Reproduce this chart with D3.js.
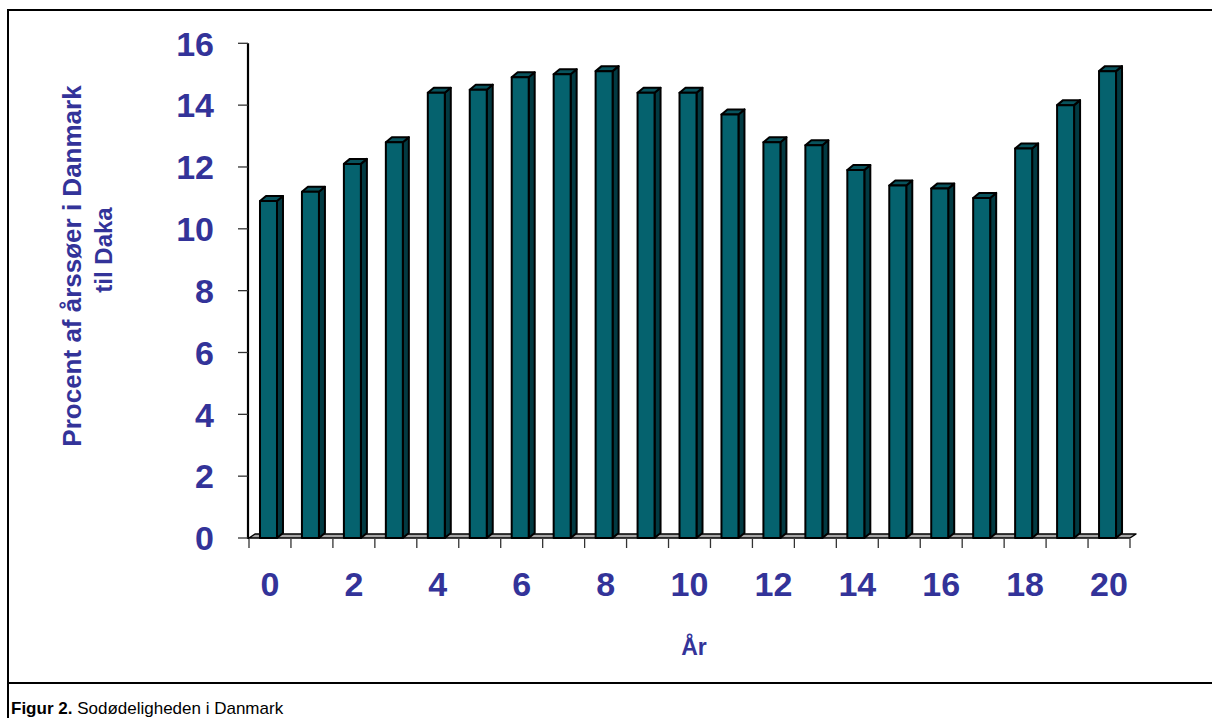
<!DOCTYPE html>
<html>
<head>
<meta charset="utf-8">
<script src="https://cdn.jsdelivr.net/npm/d3@7"></script>
<style>
  html, body { margin: 0; padding: 0; background: #fff; }
  svg { display: block; font-family: Arial, "Liberation Sans", sans-serif; }
</style>
</head>
<body>
<svg id="chart" width="1212" height="718"></svg>
<script>
// ---- data ----
const years = [0,1,2,3,4,5,6,7,8,9,10,11,12,13,14,15,16,17,18,19,20];
const values = [10.9,11.2,12.1,12.8,14.4,14.5,14.9,15.0,15.1,14.4,14.4,13.7,12.8,12.7,11.9,11.4,11.3,11.0,12.6,14.0,15.1];
const yTicks = [0,2,4,6,8,10,12,14,16];
const xLabelYears = [0,2,4,6,8,10,12,14,16,18,20];
const yTitleLines = ["Procent af årssøer i Danmark", "til Daka"];
const xTitle = "År";
const captionBold = "Figur 2.";
const captionText = " Sodødeligheden i Danmark";

const svg = d3.select("#chart");
const blue = "#333399";

// frame
svg.append("line").attr("x1", 8).attr("y1", 10).attr("x2", 1212).attr("y2", 10).attr("stroke", "#000").attr("stroke-width", 2);
svg.append("line").attr("x1", 8).attr("y1", 9).attr("x2", 8).attr("y2", 718).attr("stroke", "#000").attr("stroke-width", 2);
svg.append("line").attr("x1", 8).attr("y1", 683).attr("x2", 1212).attr("y2", 683).attr("stroke", "#000").attr("stroke-width", 2);

const x = d3.scaleBand().domain(years).range([249, 1130]).paddingInner(0).paddingOuter(0);
const y = d3.scaleLinear().domain([0, 16]).range([538, 43.3]);

const bw = x.bandwidth();
const dx = 6, dy = 5;
const barOff = bw * 0.262, barW = bw * 0.405;

// floor
const y0 = y(0);
svg.append("path")
  .attr("d", `M${x.range()[0]},${y0} L${x.range()[0] + dx},${y0 - 4} L${x.range()[1] + dx},${y0 - 4} L${x.range()[1]},${y0} Z`)
  .attr("fill", "#a6a6a6").attr("stroke", "#000").attr("stroke-width", 1.5).attr("stroke-linejoin", "round");

// y axis
svg.append("line").attr("x1", 248).attr("x2", 248).attr("y1", y(16)).attr("y2", y0 + 1)
  .attr("stroke", "#000").attr("stroke-width", 2.2);
svg.selectAll(".ytick").data(yTicks).enter().append("line")
  .attr("x1", 238).attr("x2", 248).attr("y1", d => y(d)).attr("y2", d => y(d))
  .attr("stroke", "#333").attr("stroke-width", 1.3);
svg.selectAll(".ylab").data(yTicks).enter().append("text")
  .attr("x", 214).attr("y", d => y(d)).attr("dy", "0.36em")
  .attr("text-anchor", "end").attr("font-size", 34).attr("font-weight", "bold").attr("fill", blue)
  .text(d => d);

// x ticks at band boundaries
const xTickPos = years.map(d => x(d)).concat([x.range()[1]]);
svg.selectAll(".xtick").data(xTickPos).enter().append("line")
  .attr("x1", d => d).attr("x2", d => d).attr("y1", y0 + 1).attr("y2", y0 + 10)
  .attr("stroke", "#333").attr("stroke-width", 1.3);
svg.selectAll(".xlab").data(xLabelYears).enter().append("text")
  .attr("x", d => x(d) + bw / 2).attr("y", 596)
  .attr("text-anchor", "middle").attr("font-size", 34).attr("font-weight", "bold").attr("fill", blue)
  .text(d => d);

// bars
const g = svg.append("g").attr("stroke", "#000").attr("stroke-width", 2).attr("stroke-linejoin", "round");
const bars = g.selectAll(".bar").data(years).enter().append("g");
bars.append("path") // side
  .attr("d", (d, i) => {
    const x1 = x(d) + barOff + barW, yt = y(values[i]);
    return `M${x1},${yt} L${x1 + dx},${yt - dy} L${x1 + dx},${y0 - dy} L${x1},${y0} Z`;
  }).attr("fill", "#023a42");
bars.append("path") // top
  .attr("d", (d, i) => {
    const x0 = x(d) + barOff, yt = y(values[i]);
    return `M${x0},${yt} L${x0 + dx},${yt - dy} L${x0 + barW + dx},${yt - dy} L${x0 + barW},${yt} Z`;
  }).attr("fill", "#08535d");
bars.append("rect") // front
  .attr("x", d => x(d) + barOff).attr("width", barW)
  .attr("y", (d, i) => y(values[i])).attr("height", (d, i) => y0 - y(values[i]))
  .attr("fill", "#05626e");

// axis titles
svg.append("text").attr("x", 694).attr("y", 655).attr("text-anchor", "middle")
  .attr("font-size", 23).attr("font-weight", "bold").attr("fill", blue).text(xTitle);

svg.append("text").attr("transform", "translate(81,266) rotate(-90)").attr("text-anchor", "middle")
  .attr("font-size", 26).attr("font-weight", "bold").attr("fill", blue).text(yTitleLines[0]);
svg.append("text").attr("transform", "translate(112,250) rotate(-90)").attr("text-anchor", "middle")
  .attr("font-size", 24).attr("font-weight", "bold").attr("fill", blue).text(yTitleLines[1]);

// caption
const cap = svg.append("text").attr("x", 11).attr("y", 714).attr("font-size", 17).attr("fill", "#000");
cap.append("tspan").attr("font-weight", "bold").text(captionBold);
cap.append("tspan").attr("xml:space", "preserve").text(captionText);
</script>
</body>
</html>
